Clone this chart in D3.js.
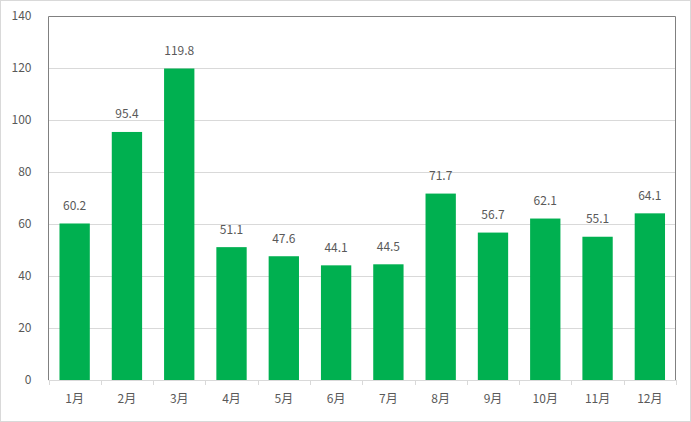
<!DOCTYPE html>
<html><head><meta charset="utf-8">
<script src="https://cdn.jsdelivr.net/npm/d3@7/dist/d3.min.js"></script>
<style>body{margin:0;background:#fff}svg{display:block}text{font-family:"Noto Sans CJK JP","Noto Sans",sans-serif;font-size:12px;fill:#595959}</style>
</head><body>
<script>
const categories = ["1月","2月","3月","4月","5月","6月","7月","8月","9月","10月","11月","12月"];
const values = [60.2,95.4,119.8,51.1,47.6,44.1,44.5,71.7,56.7,62.1,55.1,64.1];
const yTicks = [0,20,40,60,80,100,120,140];

const W=691,H=422;
const m={left:48.5,right:15,top:16,bottom:42};
const svg=d3.select("body").append("svg").attr("width",W).attr("height",H);
svg.append("rect").attr("x",0.5).attr("y",0.5).attr("width",W-1).attr("height",H-1).attr("fill","#fff").attr("stroke","#d9d9d9");
const x=d3.scaleBand().domain(categories).range([m.left,W-m.right]).paddingInner(0.42).paddingOuter(0.21);
const y=d3.scaleLinear().domain([0,140]).range([H-m.bottom,m.top]);
const x0=m.left,x1=W-m.right;
// grid
svg.append("g").selectAll("line").data(yTicks.filter(d=>d>0&&d<140)).join("line")
 .attr("x1",x0).attr("x2",x1).attr("y1",d=>Math.round(y(d))+0.5).attr("y2",d=>Math.round(y(d))+0.5).attr("stroke","#d9d9d9");
// plot border
svg.append("path").attr("d",`M${x0},${y(0)}V${y(140)+0.5}H${x1-0.5}V${y(0)}`).attr("fill","none").attr("stroke","#808080");
// bars
svg.append("g").selectAll("rect").data(values).join("rect")
 .attr("x",(d,i)=>x(categories[i])).attr("width",x.bandwidth())
 .attr("y",d=>y(d)).attr("height",d=>y(0)-y(d)).attr("fill","#00b050");
// value labels
svg.append("g").selectAll("text").data(values).join("text")
 .attr("x",(d,i)=>x(categories[i])+x.bandwidth()/2).attr("y",d=>y(d)-13.5)
 .attr("text-anchor","middle").text(d=>d.toFixed(1));
// x axis
const xa=svg.append("g").attr("transform",`translate(0,${y(0)})`).call(d3.axisBottom(x).tickSize(0).tickPadding(14));
xa.select(".domain").remove();
xa.selectAll("text").style("font-size","12px").attr("fill","#595959").style("font-family",'"Noto Sans CJK JP",sans-serif');
svg.append("line").attr("x1",x0).attr("x2",x1).attr("y1",y(0)+0.5).attr("y2",y(0)+0.5).attr("stroke","#d9d9d9");
const step=(x1-x0)/categories.length;
svg.append("g").selectAll("line").data(d3.range(categories.length+1)).join("line")
 .attr("x1",i=>Math.round(x0+i*step)+0.5).attr("x2",i=>Math.round(x0+i*step)+0.5).attr("y1",y(0)).attr("y2",y(0)+5).attr("stroke","#d9d9d9");
// y axis
const ya=svg.append("g").attr("transform",`translate(${x0},0)`).call(d3.axisLeft(y).tickValues(yTicks).tickSize(0).tickPadding(17));
ya.select(".domain").remove();
ya.selectAll("text").style("font-size","12px").attr("fill","#595959").style("font-family",'"Noto Sans CJK JP",sans-serif');
</script>
</body></html>
